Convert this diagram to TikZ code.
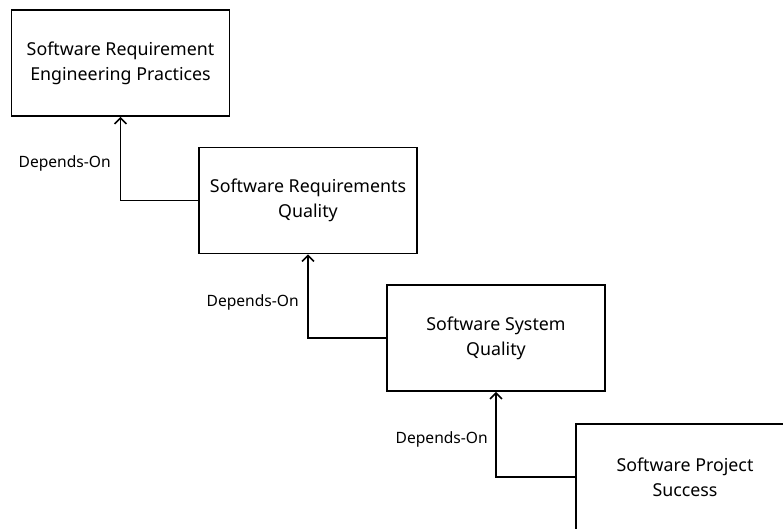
\documentclass[tikz,border=0pt]{standalone}
\usepackage{fontspec}
\setmainfont{Noto Sans}
\usetikzlibrary{arrows.meta}
\begin{document}
\begin{tikzpicture}[x=1pt,y=-1pt,
  box/.style={draw, line width=1.6pt, rectangle, minimum width=218pt, minimum height=106pt, align=center, inner sep=0pt, font=\fontsize{17.8}{25}\selectfont},
  dep/.style={anchor=east, inner sep=0pt, font=\fontsize{15.6}{18}\selectfont},
  conn/.style={line width=1.6pt, -{Straight Barb[length=6pt,width=12pt,line width=1.6pt]}}]
\useasboundingbox (0,0) rectangle (783,529);
\clip (0,0) rectangle (783,529);
\node[box] (b1) at (120.5,63) {Software Requirement\\Engineering Practices};
\node[box] (b2) at (308,200.5) {Software Requirements\\Quality};
\node[box] (b3) at (496,338) {Software System\\Quality};
\node[box] (b4) at (685,477) {Software Project\\Success};
\draw[conn] (b2.west) -| (b1.south);
\draw[conn] (b3.west) -| (b2.south);
\draw[conn] (b4.west) -| (b3.south);
\node[dep] (l1) at (111,163) {Depends-On};
\node[dep] (l2) at (299,302) {Depends-On};
\node[dep] (l3) at (488,439) {Depends-On};
\end{tikzpicture}
\end{document}
